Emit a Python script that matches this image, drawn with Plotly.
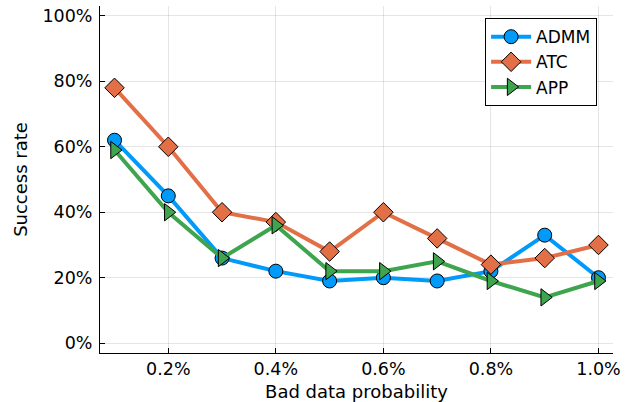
import plotly.graph_objects as go

# Bad data probability (%) on the x axis
bad_data_prob = [0.1, 0.2, 0.3, 0.4, 0.5, 0.6, 0.7, 0.8, 0.9, 1.0]

# Success rate of each algorithm (fraction)
admm = [0.62, 0.45, 0.26, 0.22, 0.19, 0.20, 0.19, 0.22, 0.33, 0.20]
atc = [0.78, 0.60, 0.40, 0.37, 0.28, 0.40, 0.32, 0.24, 0.26, 0.30]
app = [0.59, 0.40, 0.26, 0.36, 0.22, 0.22, 0.25, 0.19, 0.14, 0.19]

x_tickvals = [0.2, 0.4, 0.6, 0.8, 1.0]
x_ticktext = ["0.2%", "0.4%", "0.6%", "0.8%", "1.0%"]
y_tickvals = [0.0, 0.2, 0.4, 0.6, 0.8, 1.0]
y_ticktext = ["0%", "20%", "40%", "60%", "80%", "100%"]

series = [
    ("ADMM", admm, "#009AFA", "circle", 14),
    ("ATC", atc, "#E26F46", "diamond", 15),
    ("APP", app, "#3EA44E", "triangle-right", 15),
]

FONT = "DejaVu Sans"

fig = go.Figure()
for name, vals, color, symbol, size in series:
    fig.add_trace(go.Scatter(
        x=bad_data_prob, y=vals, name=name, mode="lines+markers",
        line=dict(color=color, width=4),
        marker=dict(symbol=symbol, size=size, color=color,
                    line=dict(color="black", width=1)),
    ))

axis_common = dict(
    showgrid=True, gridcolor="rgba(0,0,0,0.1)", gridwidth=1,
    showline=True, linecolor="black", linewidth=1,
    ticks="inside", ticklen=5, tickcolor="black", tickwidth=1,
    zeroline=False, mirror=False, automargin=False,
    tickfont=dict(family=FONT, size=17.5, color="black"),
)

fig.update_xaxes(
    range=[0.073, 1.027], tickvals=x_tickvals, ticktext=x_ticktext,
    title=dict(text="Bad data probability", standoff=9,
               font=dict(family=FONT, size=18, color="black")),
    **axis_common,
)
fig.update_yaxes(
    range=[-0.03, 1.03], tickvals=y_tickvals, ticktext=y_ticktext,
    ticklabelstandoff=3,
    title=dict(text="Success rate", standoff=10,
               font=dict(family=FONT, size=18, color="black")),
    **axis_common,
)

fig.update_layout(
    width=631, height=402,
    margin=dict(l=100, r=18, t=6, b=49),
    paper_bgcolor="white", plot_bgcolor="white",
    font=dict(family=FONT, size=17, color="black"),
    legend=dict(
        x=0.969, y=0.965, xanchor="right", yanchor="top",
        bgcolor="white", bordercolor="black", borderwidth=1,
        font=dict(family=FONT, size=17, color="black"),
        itemwidth=40, tracegroupgap=0,
    ),
    showlegend=True,
)

fig.write_html("out.html")
